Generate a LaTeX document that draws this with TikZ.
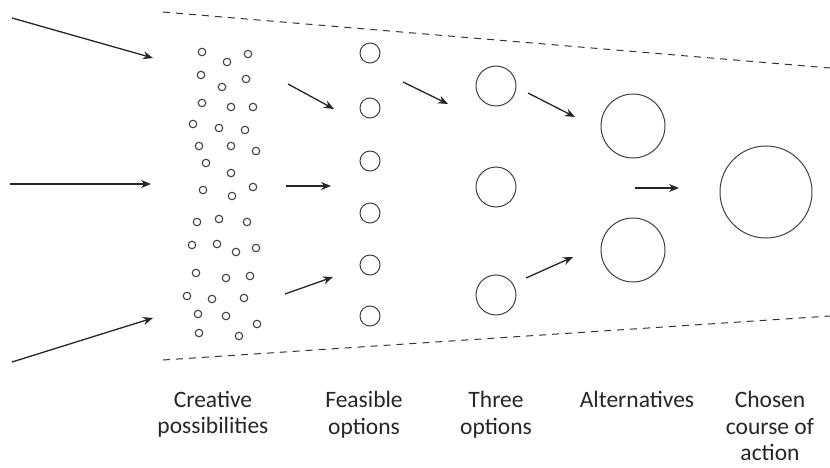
\documentclass[tikz,border=0pt]{standalone}
\usepackage{fontspec}
\setmainfont{Carlito}
\usetikzlibrary{arrows.meta}
\begin{document}
\begin{tikzpicture}[x=1pt,y=-1pt,
  ring/.style={circle,draw=black!75,line width=1pt,inner sep=0pt,minimum size=#1},
  tiny/.style={circle,draw=black!75,line width=1.1pt,inner sep=0pt,minimum size=7.5pt},
  flow/.style={draw=black!85,line width=1.3pt,-{Stealth[length=10pt,width=8pt]}},
  bound/.style={draw=black!80,line width=1pt,dash pattern=on 7pt off 6pt},
  lbl/.style={font=\fontsize{23.5}{26.5}\selectfont,align=center,anchor=north,inner sep=0pt,text=black!85}]
\useasboundingbox (0,0) rectangle (830,468);
% boundary lines
\coordinate (t1) at (163,12); \coordinate (t2) at (830,68);
\coordinate (b1) at (163,360); \coordinate (b2) at (830,316);
\draw[bound] (t1) -- (t2);
\draw[bound] (b1) -- (b2);
% incoming arrows
\coordinate (i1s) at (12,18);  \coordinate (i1e) at (153,58);
\coordinate (i2s) at (10,184); \coordinate (i2e) at (151,184);
\coordinate (i3s) at (12,362); \coordinate (i3e) at (153,318);
\draw[flow] (i1s) -- (i1e);
\draw[flow] (i2s) -- (i2e);
\draw[flow] (i3s) -- (i3e);
% creative possibilities
\foreach \x/\y [count=\i] in {202/52,227/62,248/54,201/75,222/87,246/79,202/103,231/107,253/107,
  193/124,219/128,245/130,199/146,231/146,256/151,206/163,231/173,203/190,232/196,253/187,
  197/222,219/219,247/222,192/245,217/244,236/252,256/248,196/273,226/278,250/276,
  187/296,212/299,244/298,198/314,226/316,257/324,199/333,239/336}
  \node[tiny] (p\i) at (\x,\y) {};
% feasible options
\foreach \y [count=\i] in {53,108,161,213,265,316}
  \node[ring=20pt] (f\i) at (370,\y) {};
% three options
\node[ring=40pt] (o1) at (496,86) {};
\node[ring=40pt] (o2) at (496,187) {};
\node[ring=40pt] (o3) at (496,295) {};
% alternatives
\node[ring=64pt] (a1) at (633,126) {};
\node[ring=64pt] (a2) at (633,250) {};
% chosen
\node[ring=92pt] (c1) at (766,192) {};
% inner arrows
\coordinate (j1s) at (288,84);  \coordinate (j1e) at (334,109);
\coordinate (j2s) at (286,186); \coordinate (j2e) at (331,186);
\coordinate (j3s) at (285,294); \coordinate (j3e) at (333,277);
\coordinate (k1s) at (403,82);  \coordinate (k1e) at (448,104);
\coordinate (m1s) at (528,93);  \coordinate (m1e) at (575,117);
\coordinate (m2s) at (526,278); \coordinate (m2e) at (573,257);
\coordinate (n1s) at (635,188); \coordinate (n1e) at (679,188);
\foreach \a/\b in {j1s/j1e,j2s/j2e,j3s/j3e,k1s/k1e,m1s/m1e,m2s/m2e,n1s/n1e}
  \draw[flow] (\a) -- (\b);
% labels
\node[lbl] (l1) at (213,391) {Creative\\possibilities};
\node[lbl] (l2) at (364,391) {Feasible\\options};
\node[lbl] (l3) at (496,391) {Three\\options};
\node[lbl] (l4) at (637,391) {Alternatives};
\node[lbl] (l5) at (770,391) {Chosen\\course of\\action};
\end{tikzpicture}
\end{document}
